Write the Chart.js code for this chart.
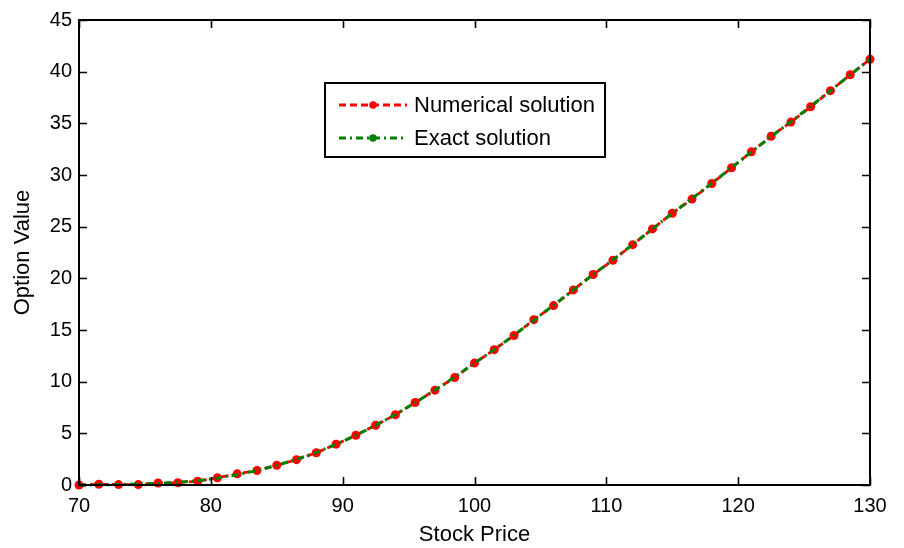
<!DOCTYPE html>
<html>
<head>
<meta charset="utf-8">
<script src="https://cdn.jsdelivr.net/npm/chart.js@4/dist/chart.umd.min.js"></script>
<style>
  html, body { margin: 0; padding: 0; background: #fff; }
  #wrap { width: 904px; height: 548px; }
</style>
</head>
<body>
<div id="wrap"><canvas id="c" width="904" height="548"></canvas></div>
<script>
// ---- data ----
const stockPrice = [70, 71.5, 73, 74.5, 76, 77.5, 79, 80.5, 82, 83.5, 85, 86.5, 88, 89.5, 91, 92.5, 94, 95.5, 97, 98.5,
                    100, 101.5, 103, 104.5, 106, 107.5, 109, 110.5, 112, 113.5, 115, 116.5, 118, 119.5, 121, 122.5, 124, 125.5, 127, 128.5, 130];
const numericalSolution = [0.0, 0.07, 0.04, 0.04, 0.19, 0.22, 0.36, 0.70, 1.08, 1.40, 1.91, 2.45, 3.12, 3.95, 4.82, 5.78, 6.80, 7.98, 9.18, 10.40,
                           11.8, 13.1, 14.47, 16.0, 17.36, 18.88, 20.37, 21.75, 23.26, 24.78, 26.3, 27.67, 29.18, 30.7, 32.24, 33.75, 35.12, 36.6, 38.16, 39.7, 41.2];
const exactSolution = [0.0, 0.02, 0.05, 0.09, 0.16, 0.26, 0.42, 0.66, 1.0, 1.40, 1.90, 2.48, 3.15, 3.93, 4.80, 5.77, 6.82, 7.97, 9.19, 10.45,
                       11.8, 13.1, 14.5, 15.95, 17.4, 18.88, 20.37, 21.8, 23.28, 24.78, 26.28, 27.72, 29.2, 30.72, 32.22, 33.72, 35.15, 36.65, 38.15, 39.7, 41.2];
const xTickValues = [70, 80, 90, 100, 110, 120, 130];
const yTickValues = [0, 5, 10, 15, 20, 25, 30, 35, 40, 45];
const seriesLabels = ['Numerical solution', 'Exact solution'];
const xTitle = 'Stock Price';
const yTitle = 'Option Value';

const FONT = "'Liberation Sans', Arial, sans-serif";

const framePlugin = {
  id: 'frame',
  afterDraw(chart) {
    const ctx = chart.ctx;
    const { left, right, top, bottom } = chart.chartArea;
    const xs = chart.scales.x, ys = chart.scales.y;
    ctx.save();
    ctx.strokeStyle = '#000';
    ctx.lineWidth = 2;
    ctx.setLineDash([]);
    ctx.strokeRect(left, top, right - left, bottom - top);
    const tl = 8;
    ctx.lineWidth = 1.6;
    ctx.beginPath();
    xTickValues.forEach(v => {
      const p = Math.round(xs.getPixelForValue(v)) + 0.5;
      ctx.moveTo(p, bottom); ctx.lineTo(p, bottom - tl);
      ctx.moveTo(p, top); ctx.lineTo(p, top + tl);
    });
    yTickValues.forEach(v => {
      const p = Math.round(ys.getPixelForValue(v)) + 0.5;
      ctx.moveTo(left, p); ctx.lineTo(left + tl, p);
      ctx.moveTo(right, p); ctx.lineTo(right - tl, p);
    });
    ctx.stroke();

    // legend box inside the plot
    const bx = 325, by = 83, bw = 280, bh = 74;
    ctx.fillStyle = '#fff';
    ctx.fillRect(bx, by, bw, bh);
    ctx.lineWidth = 2;
    ctx.strokeRect(bx, by, bw, bh);
    const rows = [105, 138];
    chart.data.datasets.forEach((ds, i) => {
      const yy = rows[i];
      ctx.save();
      ctx.strokeStyle = ds.borderColor;
      ctx.lineWidth = ds.borderWidth;
      ctx.setLineDash(ds.borderDash);
      ctx.beginPath();
      ctx.moveTo(339, yy); ctx.lineTo(407, yy);
      ctx.stroke();
      ctx.setLineDash([]);
      ctx.fillStyle = ds.legendMarkerColor;
      ctx.beginPath();
      ctx.arc(373, yy, ds.legendMarkerRadius, 0, Math.PI * 2);
      ctx.fill();
      ctx.restore();
      ctx.fillStyle = '#000';
      ctx.font = '22px ' + FONT;
      ctx.textAlign = 'left';
      ctx.textBaseline = 'middle';
      ctx.fillText(ds.label, 414, yy + 1);
    });
    ctx.restore();
  }
};

const chart = new Chart(document.getElementById('c'), {
  type: 'line',
  data: {
    datasets: [
      {
        label: seriesLabels[0],
        data: stockPrice.map((x, i) => ({ x, y: numericalSolution[i] })),
        borderColor: '#ff0000',
        backgroundColor: '#ff0000',
        borderWidth: 2.8,
        borderDash: [7, 4],
        pointRadius: 4.5,
        pointBorderWidth: 0,
        pointBackgroundColor: '#ff0000',
        legendMarkerColor: '#ff0000',
        legendMarkerRadius: 3.8,
        tension: 0,
        order: 1,
        clip: false
      },
      {
        label: seriesLabels[1],
        data: stockPrice.map((x, i) => ({ x, y: exactSolution[i] })),
        borderColor: '#008000',
        backgroundColor: '#008000',
        borderWidth: 3,
        borderDash: [7, 4, 2, 4],
        pointRadius: 0,
        legendMarkerColor: '#008000',
        legendMarkerRadius: 3.8,
        tension: 0,
        order: 0,
        clip: false
      }
    ]
  },
  options: {
    responsive: false,
    animation: false,
    events: [],
    layout: { padding: { left: 0, right: 34, top: 20, bottom: 0 } },
    plugins: {
      legend: { display: false },
      tooltip: { enabled: false },
      title: { display: false }
    },
    scales: {
      x: {
        type: 'linear',
        min: 70, max: 130,
        afterBuildTicks: s => { s.ticks = xTickValues.map(v => ({ value: v })); },
        afterFit: s => { s.height = 63; },
        grid: { display: false, drawTicks: false },
        border: { display: false },
        ticks: { color: '#000', font: { family: FONT, size: 20 }, padding: 9, maxRotation: 0 },
        title: { display: true, text: xTitle, color: '#000', font: { family: FONT, size: 22 }, padding: { top: 0, bottom: 0 } }
      },
      y: {
        type: 'linear',
        min: 0, max: 45,
        afterBuildTicks: s => { s.ticks = yTickValues.map(v => ({ value: v })); },
        afterFit: s => { s.width = 79; },
        grid: { display: false, drawTicks: false },
        border: { display: false },
        ticks: { color: '#000', font: { family: FONT, size: 20 }, padding: 7 },
        title: { display: true, text: yTitle, color: '#000', font: { family: FONT, size: 22 }, padding: { top: 10, bottom: 0 } }
      }
    }
  },
  plugins: [framePlugin]
});
</script>
</body>
</html>
